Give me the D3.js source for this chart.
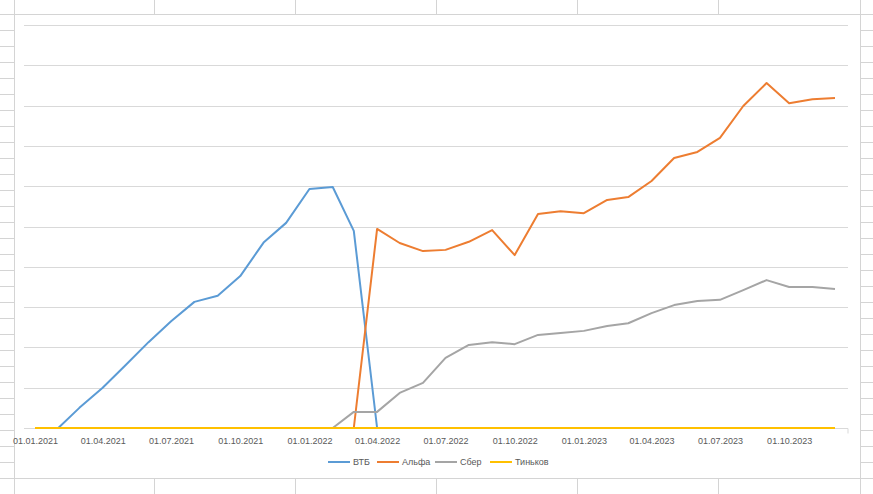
<!DOCTYPE html>
<html>
<head>
<meta charset="utf-8">
<script src="https://d3js.org/d3.v7.min.js"></script>
<style>
  body { margin: 0; background: #fff; }
  text { font-family: "Liberation Sans", Arial, sans-serif; fill: #595959; }
</style>
</head>
<body>
<svg id="chart" width="873" height="494"></svg>
<script>
// monthly points, Jan 2021 .. Dec 2023
var months = d3.range(36).map(function(i) { return new Date(2021, i, 1); });
var tickDates = d3.range(12).map(function(i) { return new Date(2021, i * 3, 1); });

var vtb = [0, 0, 0.5, 1.0, 1.55, 2.13, 2.65, 3.13, 3.28, 3.77, 4.6, 5.09,
           5.93, 5.98, 4.89, 0, 0, 0, 0, 0, 0, 0, 0, 0,
           0, 0, 0, 0, 0, 0, 0, 0, 0, 0, 0, 0];
var alfa = [0, 0, 0, 0, 0, 0, 0, 0, 0, 0, 0, 0,
            0, 0, 0, 4.94, 4.59, 4.39, 4.42, 4.62, 4.91, 4.29, 5.31, 5.38,
            5.33, 5.66, 5.73, 6.13, 6.70, 6.85, 7.2, 7.99, 8.56, 8.06, 8.16, 8.19];
var sber = [0, 0, 0, 0, 0, 0, 0, 0, 0, 0, 0, 0,
            0, 0, 0.4, 0.4, 0.87, 1.12, 1.74, 2.06, 2.13, 2.08, 2.31, 2.36,
            2.41, 2.53, 2.6, 2.85, 3.05, 3.15, 3.18, 3.42, 3.67, 3.5, 3.5, 3.45];
var tinkoff = months.map(function() { return 0; });

var seriesNames = ["ВТБ", "Альфа", "Сбер", "Тиньков"];
var seriesColors = ["#5b9bd5", "#ed7d31", "#a5a5a5", "#ffc000"];
var seriesData = [vtb, alfa, sber, tinkoff];

var svg = d3.select("#chart");

// spreadsheet grid behind the chart
var sheet = svg.append("g").attr("stroke", "#d4d4d4").attr("stroke-width", 1);
d3.range(14, 494, 16).forEach(function(y) {
  sheet.append("line").attr("x1", 0).attr("x2", 14).attr("y1", y + 0.5).attr("y2", y + 0.5);
  sheet.append("line").attr("x1", 860).attr("x2", 873).attr("y1", y + 0.5).attr("y2", y + 0.5);
});
[14, 154, 295, 436, 577, 718, 860].forEach(function(x) {
  sheet.append("line").attr("x1", x + 0.5).attr("x2", x + 0.5).attr("y1", 0).attr("y2", 494);
});
sheet.append("line").attr("x1", 0).attr("x2", 873).attr("y1", 14.5).attr("y2", 14.5);
sheet.append("line").attr("x1", 0).attr("x2", 873).attr("y1", 478.5).attr("y2", 478.5);

// chart area
svg.append("rect").attr("x", 15).attr("y", 15).attr("width", 845).attr("height", 463)
  .attr("fill", "#fff");

var x = d3.scaleTime()
  .domain([months[0], months[35]])
  .range([35, 835]);
var y = d3.scaleLinear().domain([0, 10]).range([428, 25]);

// horizontal gridlines
svg.append("g").selectAll("line")
  .data(d3.range(1, 11))
  .enter().append("line")
  .attr("x1", 24).attr("x2", 848)
  .attr("y1", function(d) { return Math.round(y(d)) + 0.5; })
  .attr("y2", function(d) { return Math.round(y(d)) + 0.5; })
  .attr("stroke", "#d9d9d9");

// x axis
var xAxis = d3.axisBottom(x).tickValues(tickDates).tickSize(0).tickPadding(9)
  .tickFormat(d3.timeFormat("%d.%m.%Y"));
var gx = svg.append("g")
  .attr("transform", "translate(0," + (Math.round(y(0)) + 0.5) + ")")
  .call(xAxis);
gx.select(".domain").remove();
gx.append("line").attr("x1", 24).attr("x2", 848).attr("stroke", "#d9d9d9");
gx.append("line").attr("x1", 848).attr("x2", 848).attr("y1", 0).attr("y2", 5).attr("stroke", "#d9d9d9");
gx.selectAll("text").style("font-size", "9px").style("fill", "#595959");

// lines
var line = d3.line()
  .x(function(d, i) { return x(months[i]); })
  .y(function(d) { return y(d); });

svg.append("g").selectAll("path")
  .data(seriesData)
  .enter().append("path")
  .attr("d", line)
  .attr("fill", "none")
  .attr("stroke", function(d, i) { return seriesColors[i]; })
  .attr("stroke-width", 2)
  .attr("stroke-linejoin", "round");

// legend
var legendX = [328, 377, 435, 490];
var legend = svg.append("g").selectAll("g")
  .data(seriesNames)
  .enter().append("g")
  .attr("transform", function(d, i) { return "translate(" + legendX[i] + ",462)"; });
legend.append("line")
  .attr("x1", 0).attr("x2", 22)
  .attr("stroke", function(d, i) { return seriesColors[i]; })
  .attr("stroke-width", 2);
legend.append("text")
  .attr("x", 25).attr("dy", "0.32em")
  .style("font-size", "9px")
  .text(function(d) { return d; });
</script>
</body>
</html>
